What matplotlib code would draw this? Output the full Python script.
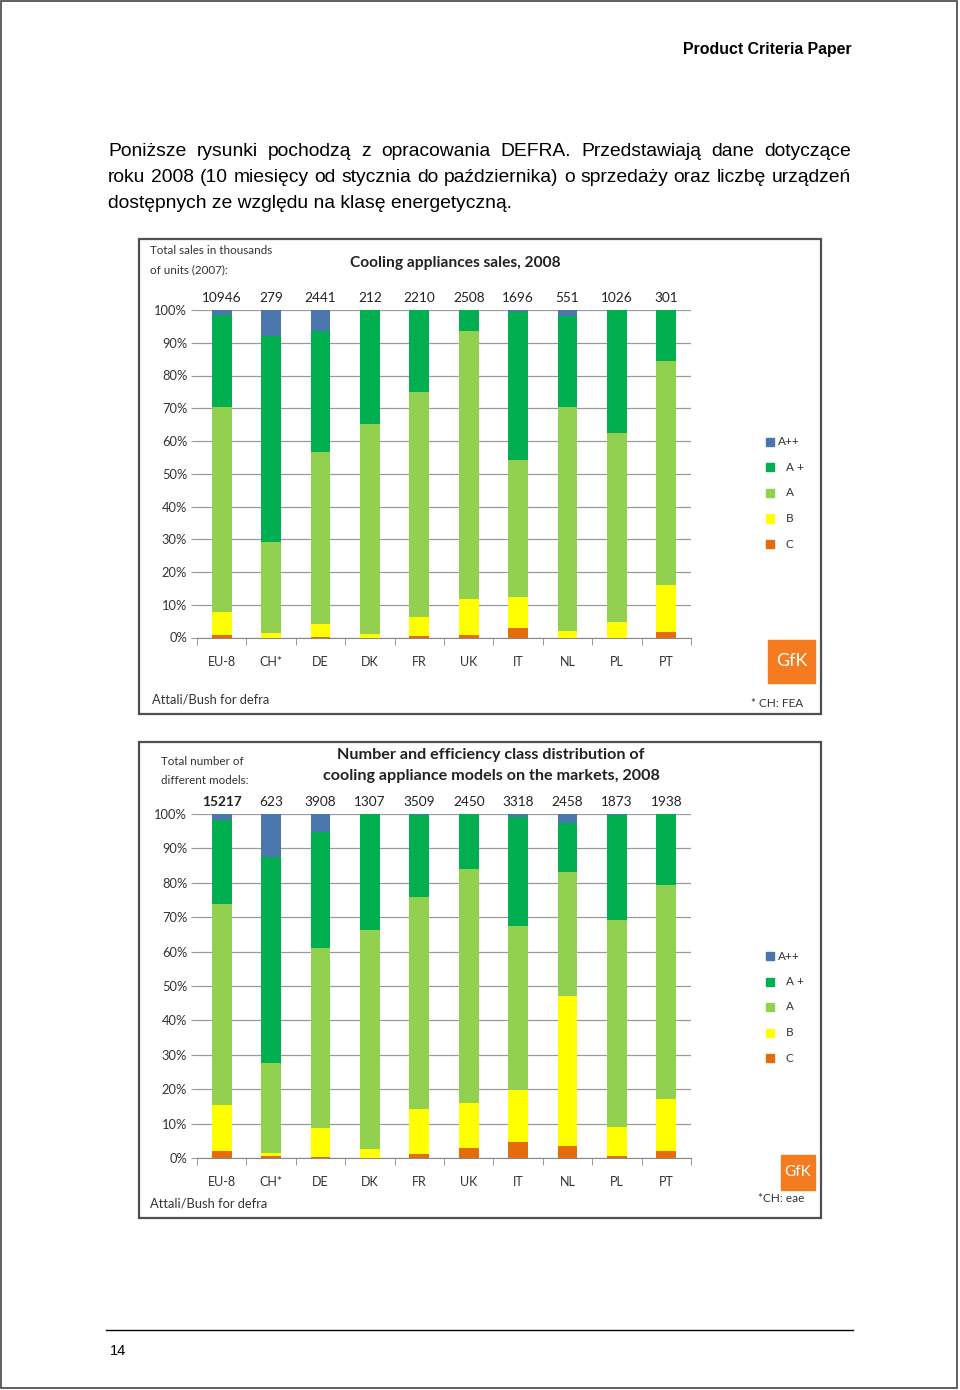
import matplotlib.pyplot as plt
import matplotlib.transforms as mtransforms
from matplotlib.patches import Rectangle
from matplotlib.lines import Line2D

# data (shares in %, per country)
countries = ['EU-8', 'CH*', 'DE', 'DK', 'FR', 'UK', 'IT', 'NL', 'PL', 'PT']
class_names = ['A++', 'A +', 'A', 'B', 'C']
class_colors = ['#4a76ad', '#00b050', '#92d050', '#ffff00', '#e46c0a']

sales_totals = [10946, 279, 2441, 212, 2210, 2508, 1696, 551, 1026, 301]
sales_app = [1.4, 8.0, 6.4, 0.0, 0.0, 0.0, 0.7, 1.9, 0.0, 0.0]
sales_ap = [28.2, 62.9, 37.0, 34.8, 25.1, 6.4, 45.0, 27.7, 37.6, 15.5]
sales_a = [62.5, 27.6, 52.6, 64.0, 68.7, 81.9, 41.9, 68.3, 57.7, 68.4]
sales_b = [7.1, 1.5, 3.8, 1.2, 5.7, 10.9, 9.6, 2.1, 4.7, 14.3]
sales_c = [0.8, 0.0, 0.2, 0.0, 0.5, 0.8, 2.8, 0.0, 0.0, 1.8]

model_totals = [15217, 623, 3908, 1307, 3509, 2450, 3318, 2458, 1873, 1938]
models_app = [1.7, 12.4, 5.3, 0.0, 0.3, 0.0, 1.0, 2.7, 0.3, 0.0]
models_ap = [24.6, 59.9, 33.7, 33.7, 23.8, 15.9, 31.6, 14.2, 30.5, 20.7]
models_a = [58.3, 26.2, 52.3, 63.7, 61.7, 68.0, 47.6, 36.0, 60.2, 62.1]
models_b = [13.4, 0.8, 8.5, 2.6, 13.1, 13.2, 15.1, 43.6, 8.4, 15.2]
models_c = [2.0, 0.7, 0.2, 0.0, 1.1, 2.9, 4.7, 3.5, 0.6, 2.0]

W, H = 960, 1390
fig = plt.figure(figsize=(W / 100, H / 100), dpi=100)
fig.patch.set_facecolor('white')

chart_font = ['Lato', 'DejaVu Sans']
page_font = ['Liberation Sans', 'DejaVu Sans']


def fx(x):
    return x / W


def fy(y):
    return 1 - y / H


# page frame
fig.add_artist(Rectangle((fx(1), fy(1388)), fx(956), 1387 / H, transform=fig.transFigure,
                         fill=False, edgecolor='#444444', lw=1.2))

fig.text(fx(852), fy(54), 'Product Criteria Paper', ha='right', va='baseline',
         fontsize=11.4, fontweight='bold', family=page_font)

para = ['Poniższe rysunki pochodzą z opracowania DEFRA. Przedstawiają dane dotyczące',
        'roku 2008 (10 miesięcy od stycznia do października) o sprzedaży oraz liczbę urządzeń',
        'dostępnych ze względu na klasę energetyczną.']
baselines = [156.5, 182.5, 208.5]
psize = 13.9
renderer = fig.canvas.get_renderer()
for k, line in enumerate(para):
    if k == len(para) - 1:
        fig.text(fx(108), fy(baselines[k]), line, ha='left', va='baseline',
                 fontsize=psize, family=page_font)
        continue
    words = line.split()
    txts = [fig.text(0, fy(baselines[k]), w, ha='left', va='baseline',
                     fontsize=psize, family=page_font) for w in words]
    widths = [t.get_window_extent(renderer).width for t in txts]
    gap = (851 - 108 - sum(widths)) / (len(words) - 1)
    x = 108
    for t, w in zip(txts, widths):
        t.set_x(fx(x))
        x += w + gap

fig.add_artist(Line2D([fx(106), fx(853)], [fy(1330), fy(1330)], transform=fig.transFigure,
                      color='black', lw=1.0))
fig.text(fx(110), fy(1355), '14', ha='left', va='baseline', fontsize=10.5, family=page_font)


def draw_chart(top, bottom, y100, y0, layers, totals, bold_first, legend_y, note, logo):
    # chart frame
    fig.add_artist(Rectangle((fx(139), fy(bottom)), fx(821 - 139), (bottom - top) / H,
                             transform=fig.transFigure, fill=False, edgecolor='#505050', lw=1.6))
    ax = fig.add_axes([fx(197), fy(y0), fx(691 - 197), (y0 - y100) / H])
    x = range(len(countries))
    cum = [0.0] * len(countries)
    # stack from C up to A++
    for vals, col in zip(layers[::-1], class_colors[::-1]):
        ax.bar(x, vals, bottom=cum, width=0.4, color=col, zorder=3)
        cum = [c + v for c, v in zip(cum, vals)]
    ax.set_xlim(-0.5, len(countries) - 0.5)
    ax.set_ylim(0, 100)
    ax.set_yticks(range(0, 101, 10))
    ax.set_yticklabels(['%d%%' % v for v in range(0, 101, 10)])
    ax.yaxis.grid(True, color='#9a9a9a', lw=0.9, zorder=0)
    for s in ['top', 'right', 'left']:
        ax.spines[s].set_visible(False)
    ax.spines['bottom'].set_color('#888888')
    ax.set_xticks(list(x))
    ax.set_xticklabels(countries)
    ax.set_xticks([i - 0.5 for i in range(len(countries) + 1)], minor=True)
    ax.tick_params(axis='x', which='major', length=0, pad=13, labelsize=9,
                   labelcolor='#333333')
    ax.tick_params(axis='x', which='minor', length=5, color='#888888')
    ax.tick_params(axis='y', length=4, color='#9a9a9a', pad=3, labelsize=9.3,
                   labelcolor='#333333')
    for lab in ax.get_xticklabels() + ax.get_yticklabels():
        lab.set_family(chart_font)

    trans = mtransforms.blended_transform_factory(ax.transData, fig.transFigure)
    for i, t in enumerate(totals):
        ax.text(i, fy(y100 - 6), str(t), transform=trans, ha='center', va='bottom',
                fontsize=9.8, family=chart_font, color='#222222',
                fontweight='bold' if (bold_first and i == 0) else 'normal')

    # legend
    for k, (name, col) in enumerate(zip(class_names, class_colors)):
        yy = legend_y + k * 25.5
        fig.add_artist(Rectangle((fx(766), fy(yy + 4)), fx(8), 8 / H,
                                 transform=fig.transFigure, color=col))
        fig.text(fx(778 if k == 0 else 786), fy(yy), name, ha='left', va='center',
                 fontsize=8.5, family=chart_font, color='#333333')

    # GfK logo
    lx0, ly0, lx1, ly1 = logo
    fig.add_artist(Rectangle((fx(lx0), fy(ly1)), fx(lx1 - lx0), (ly1 - ly0) / H,
                             transform=fig.transFigure, color='#f47b20'))
    fig.text(fx((lx0 + lx1) / 2), fy((ly0 + ly1) / 2), 'GfK', ha='center', va='center',
             fontsize=13 if (lx1 - lx0) > 40 else 11, color='white', family=chart_font)
    fig.text(fx(note[1]), fy(note[2]), note[0], ha='left', va='center', fontsize=8.5,
             family=chart_font, color='#333333')
    return ax


draw_chart(239, 714, 310, 637.5,
           [sales_app, sales_ap, sales_a, sales_b, sales_c], sales_totals, False,
           442, ('* CH: FEA', 751, 703), (768, 640, 815, 683))
fig.text(fx(150), fy(251), 'Total sales in thousands', fontsize=8.4, va='center',
         family=chart_font, color='#333333')
fig.text(fx(150), fy(270), 'of units (2007):', fontsize=8.4, va='center',
         family=chart_font, color='#333333')
fig.text(fx(455), fy(263), 'Cooling appliances sales, 2008', ha='center', va='center',
         fontsize=11.2, fontweight='bold', family=chart_font, color='#222222')
fig.text(fx(152), fy(700), 'Attali/Bush for defra', fontsize=9.3, va='center',
         family=chart_font, color='#333333')

draw_chart(742, 1218, 814, 1158,
           [models_app, models_ap, models_a, models_b, models_c], model_totals, True,
           956, ('*CH: eae', 758, 1198), (781, 1155, 815, 1190))
fig.text(fx(161), fy(762), 'Total number of', fontsize=8.4, va='center',
         family=chart_font, color='#333333')
fig.text(fx(161), fy(781), 'different models:', fontsize=8.4, va='center',
         family=chart_font, color='#333333')
fig.text(fx(491), fy(755), 'Number and efficiency class distribution of', ha='center',
         va='center', fontsize=11.6, fontweight='bold', family=chart_font, color='#222222')
fig.text(fx(491), fy(776), 'cooling appliance models on the markets, 2008', ha='center',
         va='center', fontsize=11.6, fontweight='bold', family=chart_font, color='#222222')
fig.text(fx(150), fy(1204), 'Attali/Bush for defra', fontsize=9.3, va='center',
         family=chart_font, color='#333333')

fig.savefig('out.png', dpi=100)
